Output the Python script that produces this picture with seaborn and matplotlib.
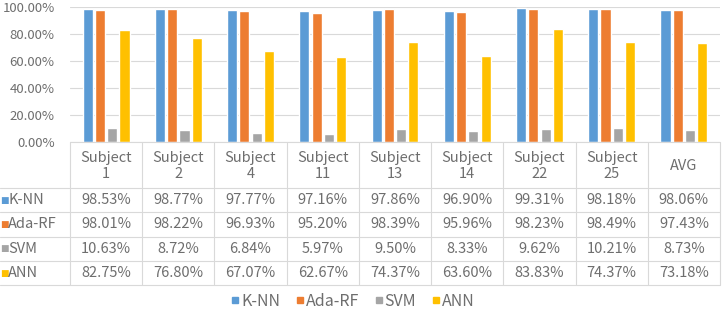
import pandas as pd
import seaborn as sns
import matplotlib.pyplot as plt
from matplotlib.lines import Line2D
from matplotlib.ticker import FuncFormatter

subjects = ["Subject\n1", "Subject\n2", "Subject\n4", "Subject\n11", "Subject\n13",
            "Subject\n14", "Subject\n22", "Subject\n25", "AVG"]
models = ["K-NN", "Ada-RF", "SVM", "ANN"]
knn = [98.53, 98.77, 97.77, 97.16, 97.86, 96.90, 99.31, 98.18, 98.06]
ada_rf = [98.01, 98.22, 96.93, 95.20, 98.39, 95.96, 98.23, 98.49, 97.43]
svm = [10.63, 8.72, 6.84, 5.97, 9.50, 8.33, 9.62, 10.21, 8.73]
ann = [82.75, 76.80, 67.07, 62.67, 74.37, 63.60, 83.83, 74.37, 73.18]
colors = ["#5B9BD5", "#ED7D31", "#A5A5A5", "#FFC000"]

series = {"K-NN": knn, "Ada-RF": ada_rf, "SVM": svm, "ANN": ann}
rows = []
for m in models:
    for s, v in zip(subjects, series[m]):
        rows.append({"subject": s, "model": m, "value": v})
df = pd.DataFrame(rows)

W, H = 727, 318
TXT = "#6E6E6E"
GRID = "#D9D9D9"
FONT = ["Noto Sans CJK SC", "DejaVu Sans"]

sns.set_style("white")
plt.rcParams["font.family"] = FONT

fig = plt.figure(figsize=(W / 100, H / 100), dpi=100)
x0, x1, ytop, ybot = 70, 720, 7, 142
ax = fig.add_axes([x0 / W, 1 - ybot / H, (x1 - x0) / W, (ybot - ytop) / H])

sns.barplot(data=df, x="subject", y="value", hue="model", palette=colors,
            saturation=1, width=0.68, gap=0.18, ax=ax, legend=False)
ax.set_ylim(0, 100)
ax.set_xlim(-0.5, len(subjects) - 0.5)
ax.set_yticks([0, 20, 40, 60, 80, 100])
ax.yaxis.set_major_formatter(FuncFormatter(lambda v, p: f"{v:.2f}%"))
ax.tick_params(axis="y", labelsize=9.5, colors=TXT, length=0, pad=11)
ax.set_xticks([])
ax.set_xlabel("")
ax.set_ylabel("")
ax.grid(axis="y", color=GRID, linewidth=0.8)
ax.set_axisbelow(True)
for sp in ax.spines.values():
    sp.set_visible(False)


def fx(px):
    return px / W


def fy(py):
    return 1 - py / H


# data table below the plot
col_w = (x1 - x0) / len(subjects)
hdr_bot = 188
row_h = 24.3
tab_bot = hdr_bot + row_h * len(models)
line_kw = dict(color=GRID, linewidth=0.8, transform=fig.transFigure)

fig.add_artist(Line2D([fx(x0), fx(x1)], [fy(ybot), fy(ybot)], **line_kw))
for i in range(len(subjects) + 1):
    xx = x0 + i * col_w
    fig.add_artist(Line2D([fx(xx), fx(xx)], [fy(ybot), fy(tab_bot)], **line_kw))
for j in range(len(models) + 1):
    yy = hdr_bot + j * row_h
    fig.add_artist(Line2D([fx(0), fx(x1)], [fy(yy), fy(yy)], **line_kw))

for i, s in enumerate(subjects):
    cx = x0 + (i + 0.5) * col_w
    fig.text(fx(cx), fy((ybot + hdr_bot) / 2 + 1), s, ha="center", va="center",
             fontsize=10.5, color=TXT, linespacing=1.25)

for j, m in enumerate(models):
    cy = hdr_bot + (j + 0.5) * row_h
    fig.text(fx(0), fy(cy), "\u25A0", ha="left", va="center", fontsize=6.5,
             color=colors[j], family="DejaVu Sans")
    fig.text(fx(8), fy(cy), m, ha="left", va="center", fontsize=10.5, color=TXT)
    for i, v in enumerate(series[m]):
        cx = x0 + (i + 0.5) * col_w
        fig.text(fx(cx), fy(cy), f"{v:.2f}%", ha="center", va="center",
                 fontsize=10.5, color=TXT)

# legend
handles = [Line2D([], [], marker="s", linestyle="", markersize=5,
                  markerfacecolor=c, markeredgecolor=c) for c in colors]
fig.legend(handles, models, loc="center", bbox_to_anchor=(fx(352), fy(301)),
           ncol=4, frameon=False, fontsize=11.5, labelcolor=TXT,
           handletextpad=0.0, columnspacing=0.9, handlelength=0.7)

fig.savefig("out.png", dpi=100)
